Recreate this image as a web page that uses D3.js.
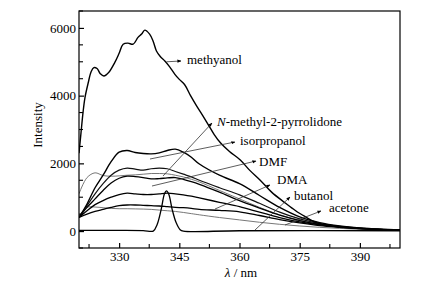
<!DOCTYPE html>
<html><head><meta charset="utf-8">
<script src="https://cdn.jsdelivr.net/npm/d3@7"></script>
<style>
body{margin:0;background:#fff;}
svg text{font-family:"Liberation Serif","Times New Roman",serif;fill:#000;}
</style></head><body>
<svg id="c" width="447" height="286"></svg>
<script>
// ---- data ----
const xTicks = [330, 345, 360, 375, 390];
const xMinor = [322.5, 337.5, 352.5, 367.5, 382.5, 397.5];
const yTicks = [0, 2000, 4000, 6000];
const yMinor = [-500, 500, 1000, 1500, 2500, 3000, 3500, 4500, 5000, 5500, 6500];

const methanolX = [320,320.5,321,321.5,322.3,323,323.7,324.5,325.3,326.2,327.5,328.9,330,331,332.2,333.5,334.7,335.6,336.4,337.6,338.5,339.3,340.3,341.4,342.6,343.9,345,346.3,347.8,349.3,350.8,352.2,353.7,355.3,357.5,360.2,362.5,365.1,368,371.4,374,376.4,378.9,382,386,390,395,400];
const methanolY = [2300,2900,3500,3950,4380,4700,4830,4800,4650,4580,4700,4975,5250,5520,5550,5520,5720,5820,5935,5816,5600,5320,5150,5024,4850,4630,4480,4330,4000,3700,3420,3145,2850,2600,2350,2100,1800,1510,1150,830,600,425,260,170,110,80,50,35];

const gridX = [320,322,324,326,328,330,332,334,336,338,340,342,344,346,348,350,355,360,365,370,375,380,385,390,395,400];
const curveB = [400,800,1280,1650,2050,2330,2380,2320,2290,2280,2310,2380,2420,2330,2180,1980,1650,1400,1050,700,420,250,150,90,55,35];
const curveC = [400,750,1100,1400,1650,1800,1860,1830,1800,1840,1860,1840,1760,1680,1600,1500,1280,1070,820,560,360,220,140,90,55,35];
const curveD = [400,700,950,1200,1420,1560,1620,1610,1580,1540,1550,1570,1580,1530,1460,1380,1150,900,680,470,310,200,130,80,50,30];
const curveE = [1100,1580,1720,1640,1620,1630,1650,1660,1680,1700,1700,1690,1650,1600,1530,1450,1200,950,700,480,320,200,130,80,50,30];
const curveF = [400,600,780,900,1000,1080,1120,1100,1080,1080,1100,1120,1100,1070,1030,980,850,720,560,400,270,180,120,75,45,25];
const curveG = [400,500,580,640,700,750,770,770,760,750,740,720,700,690,670,640,610,570,460,340,240,160,110,70,40,25];
const curveH = [450,700,710,690,670,660,660,655,650,640,620,600,580,550,515,480,400,330,260,200,150,110,80,50,30,20];

const peakX = [320,330,336,338.5,339.5,340.5,341.3,341.8,342.4,343.2,344.2,345.2,346,360,400];
const peakY = [20,20,15,0,200,650,1100,1190,1080,650,250,40,0,10,10];

const labels = ["methyanol","N-methyl-2-pyrrolidone","isorpropanol","DMF","DMA","butanol","acetone"];

// ---- chart ----
const FONT = '"Liberation Serif","Times New Roman",serif';
const svg = d3.select("#c");
const L=79, R=400, T=11, B=248;
const x = d3.scaleLinear().domain([320,400]).range([L,R]);
const y = d3.scaleLinear().domain([-500,6500]).range([B,T]);

const line = d3.line().x(d=>x(d[0])).y(d=>y(d[1])).curve(d3.curveCatmullRom.alpha(0.5));
const zipXY = (xs,ys)=>xs.map((v,i)=>[v,ys[i]]);

const series = [
  {x:gridX,y:curveH,c:"#777",w:1},
  {x:gridX,y:curveE,c:"#777",w:1},
  {x:peakX,y:peakY,c:"#000",w:1.3},
  {x:gridX,y:curveG,c:"#000",w:1.3},
  {x:gridX,y:curveF,c:"#000",w:1.3},
  {x:gridX,y:curveD,c:"#000",w:1.3},
  {x:gridX,y:curveC,c:"#111",w:1.2},
  {x:gridX,y:curveB,c:"#000",w:1.4},
  {x:methanolX,y:methanolY,c:"#000",w:1.4}
];
svg.append("clipPath").attr("id","cp").append("rect").attr("x",L).attr("y",T).attr("width",R-L).attr("height",B-T);
const g = svg.append("g").attr("clip-path","url(#cp)");
series.forEach(s=>{
  g.append("path").attr("d",line(zipXY(s.x,s.y))).attr("fill","none").attr("stroke",s.c).attr("stroke-width",s.w).attr("stroke-linejoin","round");
});

// frame
svg.append("rect").attr("x",L).attr("y",T).attr("width",R-L).attr("height",B-T).attr("fill","none").attr("stroke","#000").attr("stroke-width",1.2);

// axes
const xa = svg.append("g").attr("transform",`translate(0,${B})`)
  .call(d3.axisBottom(x).tickValues(xTicks).tickSize(-5).tickPadding(4).tickFormat(d3.format("d")));
const ya = svg.append("g").attr("transform",`translate(${L},0)`)
  .call(d3.axisLeft(y).tickValues(yTicks).tickSize(-5).tickPadding(3).tickFormat(d3.format("d")));
[xa,ya].forEach(a=>{
  a.attr("font-family",null).attr("font-size",null);
  a.select(".domain").remove();
  a.selectAll("line").attr("stroke","#000").attr("stroke-width",1.2);
  a.selectAll("text").style("font-family",FONT).style("font-size","13px").attr("fill","#000");
});
svg.append("g").selectAll("line").data(xMinor).join("line")
  .attr("x1",d=>x(d)).attr("x2",d=>x(d)).attr("y1",B).attr("y2",B-4).attr("stroke","#000").attr("stroke-width",1.1);
svg.append("g").selectAll("line").data(yMinor).join("line")
  .attr("y1",d=>y(d)).attr("y2",d=>y(d)).attr("x1",L).attr("x2",L+4).attr("stroke","#000").attr("stroke-width",1.1);

// axis titles
svg.append("text").attr("transform","translate(42,125) rotate(-90)").attr("text-anchor","middle").style("font-family",FONT).style("font-size","13px").text("Intensity");
const xt = svg.append("text").attr("x",241).attr("y",277).attr("text-anchor","middle").style("font-family",FONT).style("font-size","13px");
xt.append("tspan").style("font-style","italic").text("λ");
xt.append("tspan").text(" / nm");

// annotations: [label, textX, textY, lineFromX, lineFromY, arrowX, arrowY]
const ann = [
  [0, 187, 64, x(341.8), y(5000), 181, 61],
  [1, 217, 126, 163, 176, 212, 123],
  [2, 240, 145, 150, 159, 235, 142],
  [3, 259, 166, 152, 186, 256, 161],
  [4, 277, 184, 215, 209, 270, 185],
  [5, 294, 200, 255, 230, 290, 197],
  [6, 329, 212, 285, 225, 321, 211]
];
const defs = svg.append("defs");
defs.append("marker").attr("id","ah").attr("viewBox","0 0 10 10").attr("refX",9).attr("refY",5)
  .attr("markerWidth",5).attr("markerHeight",5).attr("orient","auto")
  .append("path").attr("d","M0,1 L10,5 L0,9 Z").attr("fill","#000");
ann.forEach(a=>{
  svg.append("line").attr("x1",a[3]).attr("y1",a[4]).attr("x2",a[5]).attr("y2",a[6])
    .attr("stroke","#333").attr("stroke-width",0.8).attr("marker-end","url(#ah)");
  const t = svg.append("text").attr("x",a[1]).attr("y",a[2]).style("font-family",FONT).style("font-size","13px");
  if(a[0]===1){
    t.append("tspan").style("font-style","italic").text("N");
    t.append("tspan").text(labels[1].slice(1));
  } else t.text(labels[a[0]]);
});
</script></body></html>
